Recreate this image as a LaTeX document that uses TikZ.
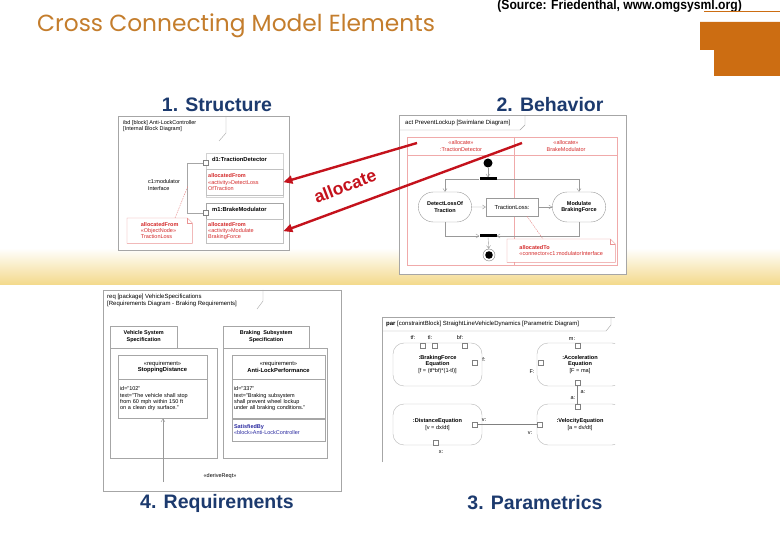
\documentclass[tikz,border=0pt]{standalone}
\usepackage{fontspec}
\setmainfont{Liberation Sans}
\newfontfamily\titlefont{Poppins}
\newfontfamily\narrowfont[FakeStretch=0.9]{Liberation Sans}
\usetikzlibrary{arrows.meta,positioning,shapes.misc}
\definecolor{slideorange}{HTML}{CC6D12}
\definecolor{titlebrown}{HTML}{C47D2C}
\definecolor{headnavy}{HTML}{1C3A6E}
\definecolor{allocred}{HTML}{C4121C}
\definecolor{modelred}{HTML}{D42A2A}
\definecolor{lanepink}{HTML}{F0AAAA}
\definecolor{framegray}{HTML}{A6A6A6}
\definecolor{bandyellow}{HTML}{F3D98A}
\definecolor{satblue}{HTML}{2A2AA0}
\tikzset{
  panel/.style={draw=framegray, fill=white, line width=0.5pt, inner sep=0pt},
  heading/.style={font=\bfseries\fontsize{19.5}{22}\selectfont, text=headnavy, inner sep=0pt},
  tinytext/.style={font=\fontsize{5.5}{6.3}\selectfont, inner sep=1pt, align=left},
  partbox/.style={draw=framegray, line width=0.4pt, inner sep=0pt},
  partname/.style={font=\bfseries\fontsize{5.8}{6.5}\selectfont, inner sep=1pt, anchor=north west},
  compart/.style={tinytext, draw=framegray!70, text=modelred, anchor=north west, text width=73, minimum height=26, inner sep=2pt},
  port/.style={draw=gray, fill=white, inner sep=0pt, minimum size=5pt, line width=0.4pt},
  lane/.style={draw=lanepink, line width=0.5pt},
  action/.style={rounded rectangle, draw=gray!80, font=\bfseries\fontsize{5.5}{6.3}\selectfont, align=center, minimum width=60, minimum height=30, line width=0.4pt},
  objnode/.style={draw=gray!80, font=\fontsize{5.8}{6.5}\selectfont, minimum width=52, minimum height=18, line width=0.4pt},
  syncbar/.style={fill=black, minimum width=17, minimum height=3, inner sep=0pt},
  startdot/.style={circle, fill=black, minimum size=9, inner sep=0pt},
  enddot/.style={circle, draw=gray, inner sep=0pt, minimum size=12, path picture={\fill[black] (path picture bounding box.center) circle (3.8pt);}},
  flow/.style={-{Straight Barb[length=3pt,width=4pt]}, gray!80, line width=0.4pt},
  notelink/.style={dash pattern=on 1.5pt off 1pt, modelred!60, line width=0.4pt},
  alloc/.style={-{Triangle[length=9pt,width=8pt]}, allocred, line width=2.4pt},
  pkgtab/.style={draw=framegray, font=\bfseries\fontsize{5.5}{6.5}\selectfont, align=center, anchor=south west, inner sep=1pt, line width=0.4pt},
  reqhead/.style={draw=framegray, fill=white, font=\fontsize{5.8}{6.6}\selectfont, align=center, minimum height=24, inner sep=1pt, line width=0.4pt},
  reqbody/.style={draw=framegray, fill=white, font=\fontsize{5.5}{6.3}\selectfont, align=left, inner sep=2pt, anchor=north, line width=0.4pt},
  cblock/.style={draw=framegray!80, rounded corners=11pt, font=\fontsize{5.6}{6.4}\selectfont, align=center, line width=0.4pt},
  plabel/.style={font=\fontsize{5.5}{6}\selectfont, inner sep=0.5pt},
  bind/.style={gray, line width=0.4pt},
}
\newcommand{\foldnote}[1]{%
  \draw[modelred!50, line width=0.4pt] (#1.north west) -- ([xshift=-5pt]#1.north east) -- ([yshift=-5pt]#1.north east) -- (#1.south east) -- (#1.south west) -- cycle;
  \draw[modelred!50, line width=0.4pt] ([xshift=-5pt]#1.north east) |- ([yshift=-5pt]#1.north east);
}

\begin{document}
\begin{tikzpicture}[x=1pt, y=-1pt]
  \useasboundingbox (0,0) rectangle (780,540);
  \fill[white] (0,0) rectangle (780,540);
  \shade[top color=white, bottom color=bandyellow] (0,248) rectangle (780,285);

  % slide title
  \node[anchor=base west, inner sep=0pt, text=titlebrown, font=\titlefont\fontsize{23.3}{26}\selectfont] (title) at (37,32) {Cross Connecting Model Elements};
  \node[anchor=base east, inner sep=0pt, font=\narrowfont\bfseries\fontsize{13.5}{15}\selectfont] (source) at (742,10) {(Source: Friedenthal, www.omgsysml.org)};
  \draw[slideorange, line width=0.8pt] (704,11.5) -- (780,11.5);
  \fill[slideorange] (700,22) -- (780,22) -- (780,76) -- (714,76) -- (714,50) -- (700,50) -- cycle;

  \node[heading] (structure) at (217,105) {1. Structure};
  \node[heading] (behavior) at (550,105) {2. Behavior};
  \node[heading] (requirements) at (217,503) {4. Requirements};
  \node[heading] (parametrics) at (535,503) {3. Parametrics};

  % 1. structure
  \node[panel, anchor=north west, minimum width=171, minimum height=134] (ibd) at (118,116) {};
  \node[tinytext, anchor=north west] (ibdtitle) at (122,119) {ibd [block] Anti-LockController\\{}[Internal Block Diagram]};
  \draw[framegray, line width=0.4pt] (226,116) -- (226,133) -- (219,141);
  \node[partbox, draw=framegray!50, anchor=north west, minimum width=77, minimum height=44] (d1) at (206,153) {};
  \node[partname] (d1name) at (211,156) {d1:TractionDetector};
  \node[compart] (d1alloc) at (206,169) {\textbf{allocatedFrom}\\«activity»DetectLoss\\OfTraction};
  \node[partbox, anchor=north west, minimum width=77, minimum height=40] (m1) at (206,203) {};
  \node[partname] (m1name) at (211,206) {m1:BrakeModulator};
  \node[compart, minimum height=24] (m1alloc) at (206,219) {\textbf{allocatedFrom}\\«activity»Modulate\\BrakingForce};
  \node[port] (d1port) at (206,163) {};
  \node[port] (m1port) at (206,213) {};
  \draw[partbox] (d1port.west) -- ++(-16,0) |- (m1port.west);
  \node[tinytext] (c1label) at (164,185) {c1:modulator\\Interface};
  \node[tinytext, text=modelred, fill=white, anchor=north west, minimum width=65, minimum height=25, inner sep=2pt] (tlnote) at (127,218) {\textbf{allocatedFrom}\\«ObjectNode»\\TractionLoss};
  \foldnote{tlnote}
  \coordinate (c1mid) at (188,186);
  \draw[notelink] ([xshift=48pt]tlnote.north west) -- (c1mid);

  % 2. behavior
  \node[panel, anchor=north west, minimum width=227, minimum height=159] (act) at (399,115) {};
  \node[tinytext, font=\fontsize{6}{7}\selectfont, anchor=west] (acttitle) at (404,123) {act PreventLockup [Swimlane Diagram]};
  \draw[framegray, line width=0.4pt] (399,130) -- (520,130) -- (525,125) -- (525,115);
  \draw[lane] (407,137) rectangle (617,265);
  \draw[lane] (407,155) -- (617,155);
  \draw[lane] (514,137) -- (514,265);
  \node[tinytext, align=center, text=modelred] (lanetd) at (461,146) {«allocate»\\:TractionDetector};
  \node[tinytext, align=center, text=modelred] (lanebm) at (566,146) {«allocate»\\BrakeModulator};
  \node[startdot] (start) at (488,163) {};
  \node[syncbar] (fork) at (488,179) {};
  \node[action, fill=white] (detect) at (445,207) {DetectLossOf\\Traction};
  \node[objnode, fill=white] (tloss) at (512,207) {TractionLoss:};
  \node[action, fill=white] (modulate) at (579,207) {Modulate\\BrakingForce};
  \node[syncbar] (join) at (488,236) {};
  \node[enddot] (end) at (489,255) {};
  \draw[flow] (start) -- (fork);
  \draw[flow] (fork.west) -| (detect);
  \draw[flow] (fork.east) -| (modulate);
  \draw[flow] (detect) -- (tloss);
  \draw[flow] (tloss) -- (modulate);
  \draw[flow] (detect) |- (join.west);
  \draw[flow] (modulate) |- (join.east);
  \draw[flow] (join) -- (end);
  \node[tinytext, text=modelred, fill=white, anchor=north west, minimum width=108, minimum height=23, inner sep=2pt] (tonote) at (507,239) {\textbf{allocatedTo}\\«connector»c1:modulatorInterface};
  \foldnote{tonote}
  \draw[notelink] ([xshift=15pt]tloss.south) -- ([xshift=36pt]tonote.north west);

  % allocation arrows
  \coordinate (allocsrc1) at (417,143);
  \coordinate (allocsrc2) at (522,143);
  \draw[alloc] (allocsrc1) -- (d1alloc.east);
  \draw[alloc] (allocsrc2) -- (m1alloc.east);
  \node[rotate=21, text=allocred, font=\bfseries\fontsize{17.5}{18}\selectfont] (allocword) at (345,186) {allocate};

  % 4. requirements
  \node[panel, anchor=north west, minimum width=238, minimum height=201] (req) at (103,290) {};
  \node[tinytext, font=\fontsize{6}{7}\selectfont, anchor=north west] (reqtitle) at (106,293) {req [package] VehicleSpecifications\\{}[Requirements Diagram - Braking Requirements]};
  \draw[framegray, line width=0.4pt] (263,290) -- (263,301) -- (257,309);
  \node[partbox, anchor=north west, minimum width=107, minimum height=110] (vssbody) at (110,348) {};
  \node[pkgtab, minimum width=67, minimum height=22] (vsstab) at (vssbody.north west) {Vehicle System\\Specification};
  \node[partbox, anchor=north west, minimum width=104, minimum height=110] (bssbody) at (223,348) {};
  \node[pkgtab, minimum width=86, minimum height=22] (bsstab) at (bssbody.north west) {Braking\hspace{3pt}Subsystem\\Specification};
  \node[reqhead, minimum width=89] (sdhead) at (162.5,367) {«requirement»\\\textbf{StoppingDistance}};
  \node[reqbody, text width=85, minimum height=39, below=0pt of sdhead] (sdbody) {id="102"\\text="The vehicle shall stop\\from 60 mph within 150 ft\\on a clean dry surface."};
  \node[reqhead, minimum width=93] (alphead) at (278.5,367) {«requirement»\\\textbf{Anti-LockPerformance}};
  \node[reqbody, text width=89, minimum height=39, below=0pt of alphead] (alpbody) {id="337"\\text="Braking subsystem\\shall prevent wheel lockup\\under all braking conditions."};
  \node[reqbody, text width=89, minimum height=22, below=0pt of alpbody, text=satblue] (alpsat) {\textbf{SatisfiedBy}\\«block»Anti-LockController};
  \coordinate (derivefoot) at (163,482);
  \draw[flow] (derivefoot) -- (derivefoot |- sdbody.south);
  \node[tinytext] (derivelabel) at (220,476) {«deriveReqt»};

  % 3. parametrics
  \draw[framegray, line width=0.5pt] (382,462) -- (382,317) -- (615,317);
  \draw[framegray, line width=0.4pt] (382,331) -- (606,331) -- (611,325) -- (611,317);
  \node[tinytext, font=\fontsize{6}{7}\selectfont, anchor=west] (partitle) at (385,324) {\textbf{par} [constraintBlock] StraightLineVehicleDynamics [Parametric Diagram]};
  \node[cblock, minimum width=89, minimum height=43] (brake) at (437.5,364.5) {\textbf{:BrakingForce}\\\textbf{Equation}\\{}[f = (tf*bf)*(1-tl)]};
  \node[cblock, minimum width=89, minimum height=41] (dist) at (437.5,424.5) {\textbf{:DistanceEquation}\\{}[v = dx/dt]};
  \begin{scope}
    \clip (380,310) rectangle (615,470);
    \node[cblock, minimum width=86, minimum height=43] (accel) at (580,364.5) {\textbf{:Acceleration}\\\textbf{Equation}\\{}[F = ma]};
    \node[cblock, minimum width=86, minimum height=41] (veloc) at (580,424.5) {\textbf{:VelocityEquation}\\{}[a = dv/dt]};
  \end{scope}
  \node[port] (tfport) at (423,345.5) {};
  \node[port] (tlport) at (435,345.5) {};
  \node[port] (bfport) at (465,345.5) {};
  \node[port] (fport) at (474.5,362.5) {};
  \node[port] (mport) at (577.5,345.5) {};
  \node[port] (Fport) at (540.5,363) {};
  \node[port] (aport) at (577.5,383) {};
  \node[port] (vdport) at (474.5,424.5) {};
  \node[port] (xport) at (435.5,442.5) {};
  \node[port] (vvport) at (539.5,424.5) {};
  \node[port] (avport) at (577.5,406.5) {};
  \node[plabel] (tflabel) at (413,338) {tf:};
  \node[plabel] (tllabel) at (430,338) {tl:};
  \node[plabel] (bflabel) at (460,338) {bf:};
  \node[plabel] (flabel) at (484,360) {f:};
  \node[plabel] (mlabel) at (572,339) {m:};
  \node[plabel] (Flabel) at (532,372) {F:};
  \node[plabel] (aalabel) at (583,392) {a:};
  \node[plabel] (avlabel) at (573,398) {a:};
  \node[plabel] (vdlabel) at (484,420) {v:};
  \node[plabel] (vvlabel) at (530,433) {v:};
  \node[plabel] (xlabel) at (441,452) {x:};
  \draw[bind] (vdport) -- (vvport);
  \draw[bind] (aport) -- (avport);
\end{tikzpicture}
\end{document}
